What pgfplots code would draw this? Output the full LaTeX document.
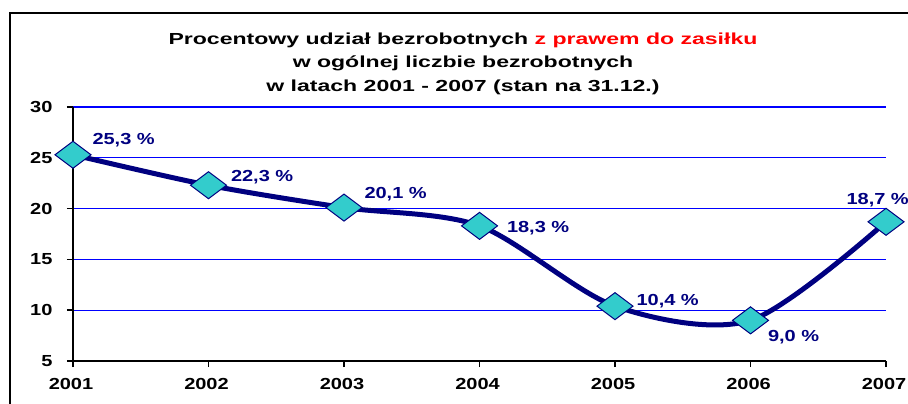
\documentclass[border=0pt]{standalone}
\usepackage{pgfplots}
\pgfplotsset{compat=1.18}
\usepackage{pgfplotstable}
\usepackage{fontspec}
\setmainfont{Liberation Sans}
\newfontfamily\labfont[FakeStretch=1.25]{Liberation Sans}
\newfontfamily\ttlfont[FakeStretch=1.44]{Liberation Sans}
\definecolor{navy}{HTML}{000080}
\definecolor{turq}{HTML}{33CCCC}
\definecolor{gridblue}{HTML}{0000FF}
\definecolor{zred}{HTML}{FF0000}

\pgfplotstableread{
x y dx dy lab
0 25.3 19 10 25,3
1 22.3 22 4 22,3
2 20.1 20 9 20,1
3 18.3 27 -7 18,3
4 10.4 21 1 10,4
5 9.0 17 -21 9,0
6 18.7 -40 17 18,7
}\data

\begin{document}
\begin{tikzpicture}[x=1bp,y=1bp]
\clip (0,0) rectangle (908,403);
\draw[line width=1.5bp] (10,-10) -- (10,390) -- (920,390);
\node[font=\ttlfont\bfseries\fontsize{16bp}{19bp}\selectfont, anchor=base, inner sep=0pt] at (463,359) {Procentowy udział bezrobotnych \textcolor{zred}{z prawem do zasiłku}};
\node[font=\ttlfont\bfseries\fontsize{16bp}{19bp}\selectfont, anchor=base, inner sep=0pt] at (463,335.5) {w ogólnej liczbie bezrobotnych};
\node[font=\ttlfont\bfseries\fontsize{16bp}{19bp}\selectfont, anchor=base, inner sep=0pt] at (463,311.5) {w latach 2001 - 2007 (stan na 31.12.)};
\begin{axis}[
  at={(73bp,42bp)}, anchor=south west, scale only axis,
  width=813bp, height=254bp,
  xmin=0, xmax=6, ymin=5, ymax=30,
  ytick={5,10,15,20,25,30},
  xtick={0,1,2,3,4,5,6},
  xticklabels={2001,2002,2003,2004,2005,2006,2007},
  axis lines=left,
  axis line style={-, line width=1.5bp, black},
  ymajorgrids,
  y grid style={gridblue, line width=1.3bp},
  tick align=outside,
  major tick length=6bp,
  tick style={black, line width=1.5bp},
  ticklabel style={font=\labfont\bfseries\fontsize{16bp}{19bp}\selectfont},
  yticklabel style={xshift=-11bp},
  xticklabel style={yshift=-8bp, xshift=-2bp},
  /pgf/number format/assume math mode=true,
  clip=false,
]
\addplot[navy, line width=5bp, smooth,
  mark=diamond*, mark size=18bp,
  mark options={rotate=90, fill=turq, draw=navy, line width=1bp},
  point meta=explicit symbolic,
  visualization depends on={\thisrow{dx}\as\dx},
  visualization depends on={\thisrow{dy}\as\dy},
  nodes near coords={\pgfplotspointmeta~\%},
  nodes near coords style={anchor=base west, inner sep=0pt, xshift=\dx bp, yshift=\dy bp, text=navy,
    font=\labfont\bfseries\fontsize{16bp}{19bp}\selectfont},
] table[x=x, y=y, meta=lab] {\data};
\end{axis}
\end{tikzpicture}
\end{document}
